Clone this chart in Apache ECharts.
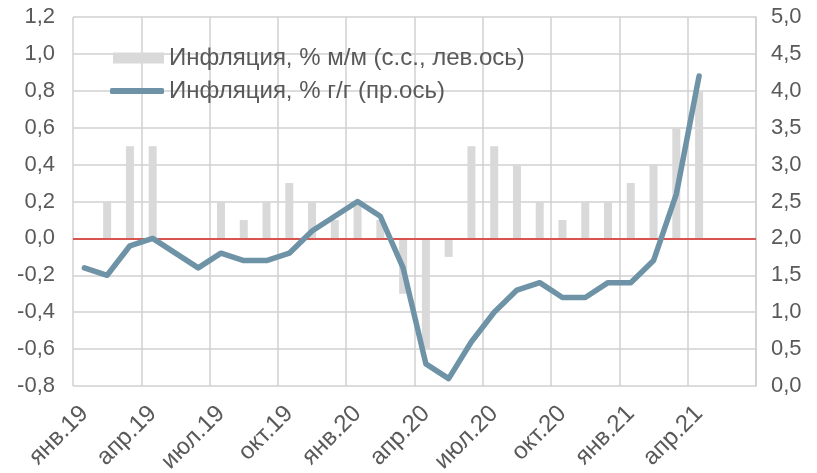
<!DOCTYPE html>
<html><head><meta charset="utf-8">
<script src="https://cdn.jsdelivr.net/npm/echarts@6/dist/echarts.min.js"></script>
<style>html,body{margin:0;padding:0;background:#fff}#c{width:817px;height:473px}</style>
</head><body><div id="c"></div>
<script>
const categories = ['янв.19','фев.19','мар.19','апр.19','май.19','июн.19','июл.19','авг.19','сен.19','окт.19','ноя.19','дек.19',
 'янв.20','фев.20','мар.20','апр.20','май.20','июн.20','июл.20','авг.20','сен.20','окт.20','ноя.20','дек.20',
 'янв.21','фев.21','мар.21','апр.21','май.21','июн.21'];
const momValues = [0,0.2,0.5,0.5,0,0,0.2,0.1,0.2,0.3,0.2,0.1,0.2,0.1,-0.3,-0.6,-0.1,0.5,0.5,0.4,0.2,0.1,0.2,0.2,0.3,0.4,0.6,0.8,null,null];
const yoyValues = [1.6,1.5,1.9,2.0,1.8,1.6,1.8,1.7,1.7,1.8,2.1,2.3,2.5,2.3,1.6,0.3,0.1,0.6,1.0,1.3,1.4,1.2,1.2,1.4,1.4,1.7,2.6,4.2,null,null];
const seriesNames = ['Инфляция, % м/м (с.с., лев.ось)','Инфляция, % г/г (пр.ось)'];

const font = 'Liberation Sans, Arial, sans-serif';
const txt = '#595959';
const fmt = v => v.toFixed(1).replace('.', ',');
const chart = echarts.init(document.getElementById('c'), null, {renderer:'canvas'});
chart.setOption({
  animation:false,
  textStyle:{fontFamily:font},
  grid:{left:73,right:61,top:17,bottom:87,containLabel:false,outerBoundsMode:'none'},
  legend:[{
    left:113, top:46, padding:0, itemWidth:51, itemHeight:11, itemGap:8,
    textStyle:{fontSize:24,color:txt,fontFamily:font},
    data:[{name:seriesNames[0],icon:'rect'}]
  },{
    left:110, top:79, padding:0, itemWidth:54, itemHeight:6, itemGap:5,
    textStyle:{fontSize:24,color:txt,fontFamily:font},
    data:[{name:seriesNames[1],icon:'roundRect'}]
  }],
  xAxis:{
    type:'category', data:categories, boundaryGap:true,
    axisLine:{lineStyle:{color:'#d0d0d0',width:1.5}},
    axisTick:{show:false},
    axisLabel:{interval:2,rotate:45,fontSize:24,color:txt,fontFamily:font,margin:24},
    splitLine:{show:true,interval:2,lineStyle:{color:'#d0d0d0',width:1.5}}
  },
  yAxis:[{
    type:'value', min:-0.8, max:1.2, interval:0.2, position:'left',
    axisLine:{show:false}, axisTick:{show:false},
    axisLabel:{formatter:fmt,fontSize:22,color:txt,fontFamily:font,margin:18},
    splitLine:{lineStyle:{color:'#d0d0d0',width:1.5}}
  },{
    type:'value', min:0, max:5, interval:0.5, position:'right',
    axisLine:{show:true,lineStyle:{color:'#d0d0d0',width:1.5}}, axisTick:{show:false},
    axisLabel:{formatter:fmt,fontSize:22,color:txt,fontFamily:font,margin:15},
    splitLine:{show:false}
  }],
  series:[{
    name:seriesNames[0], type:'bar', yAxisIndex:0, data:momValues, barWidth:8,
    itemStyle:{color:'#d9d9d9'},
    markLine:{silent:true,symbol:'none',label:{show:false},lineStyle:{color:'#d9534f',width:2,type:'solid'},data:[{yAxis:0}]},
    z:2
  },{
    name:seriesNames[1], type:'line', yAxisIndex:1, data:yoyValues, symbol:'none',
    lineStyle:{color:'#6f93a6',width:5.5,cap:'round',join:'round'}, itemStyle:{color:'#6f93a6'},
    z:5
  }]
});
</script></body></html>
